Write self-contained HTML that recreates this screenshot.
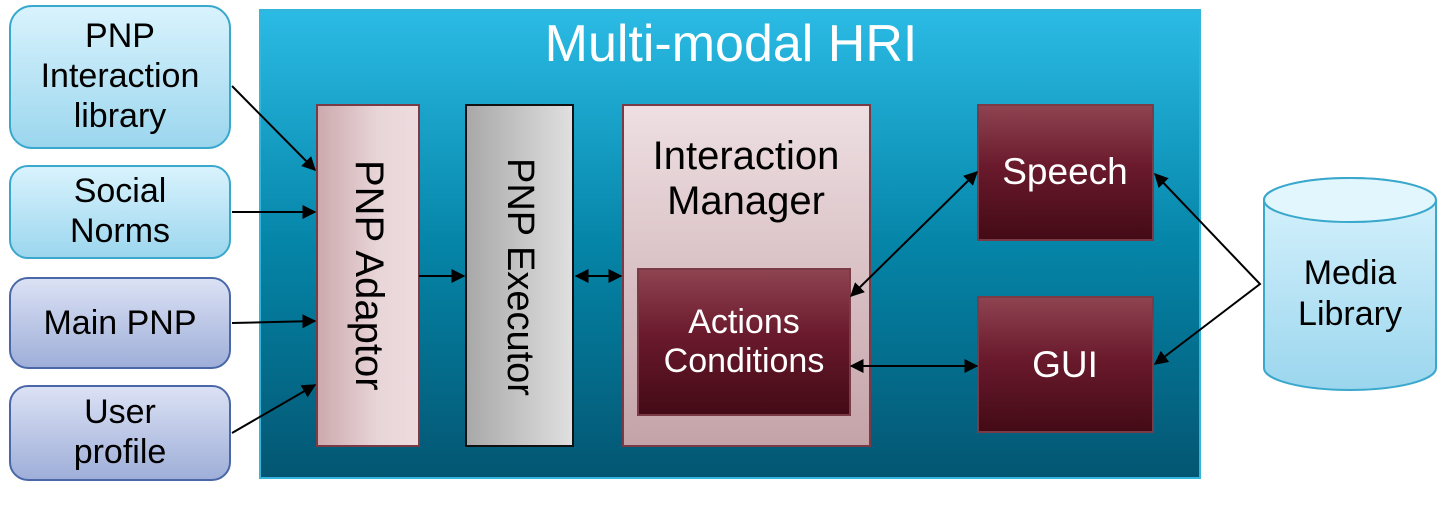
<!DOCTYPE html>
<html><head><meta charset="utf-8"><style>
html,body{margin:0;padding:0;background:#fff;}
svg{display:block;font-family:"Liberation Sans",sans-serif;}
</style></head><body>
<svg width="1446" height="509" viewBox="0 0 1446 509" xmlns="http://www.w3.org/2000/svg">
<defs>
<linearGradient id="main" x1="0" y1="0" x2="0" y2="1"><stop offset="0" stop-color="#2bbbe5"/><stop offset="0.5" stop-color="#0585a8"/><stop offset="1" stop-color="#035672"/></linearGradient>
<linearGradient id="cyan" x1="0" y1="0" x2="0" y2="1"><stop offset="0" stop-color="#d9f3fd"/><stop offset="1" stop-color="#9bd6ee"/></linearGradient>
<linearGradient id="blue" x1="0" y1="0" x2="0" y2="1"><stop offset="0" stop-color="#dce2f5"/><stop offset="1" stop-color="#9eaed8"/></linearGradient>
<linearGradient id="pink" x1="0" y1="0" x2="1" y2="0"><stop offset="0" stop-color="#cca9ad"/><stop offset="0.6" stop-color="#e8d5d8"/><stop offset="1" stop-color="#eddcdf"/></linearGradient>
<linearGradient id="pinkv" x1="0" y1="0" x2="0" y2="1"><stop offset="0" stop-color="#eedfe2"/><stop offset="1" stop-color="#c4a3a8"/></linearGradient>
<linearGradient id="gray" x1="0" y1="0" x2="1" y2="0"><stop offset="0" stop-color="#a8a8a8"/><stop offset="1" stop-color="#e0e0e0"/></linearGradient>
<linearGradient id="maroon" x1="0" y1="0" x2="0" y2="1"><stop offset="0" stop-color="#8f4452"/><stop offset="0.45" stop-color="#6a1a2c"/><stop offset="1" stop-color="#430a16"/></linearGradient>
<marker id="ah" viewBox="0 0 10 10" refX="9" refY="5" markerWidth="7" markerHeight="7" orient="auto-start-reverse"><path d="M0,0 L10,5 L0,10 z" fill="#000"/></marker>
</defs>
<rect x="260" y="10" width="940" height="468" fill="url(#main)" stroke="#33b5dc" stroke-width="2"/>
<text x="731" y="61" font-size="52" fill="#fff" text-anchor="middle">Multi-modal HRI</text>

<rect x="10" y="6" width="220" height="142" rx="22" fill="url(#cyan)" stroke="#3aa8cc" stroke-width="2"/>
<text font-size="34" text-anchor="middle" fill="#000"><tspan x="120" y="47">PNP</tspan><tspan x="120" y="87">Interaction</tspan><tspan x="120" y="127">library</tspan></text>
<rect x="10" y="166" width="220" height="92" rx="18" fill="url(#cyan)" stroke="#3aa8cc" stroke-width="2"/>
<text font-size="34" text-anchor="middle"><tspan x="120" y="202">Social</tspan><tspan x="120" y="242">Norms</tspan></text>
<rect x="10" y="278" width="220" height="90" rx="18" fill="url(#blue)" stroke="#4a68a8" stroke-width="2"/>
<text x="120" y="334" font-size="34" text-anchor="middle">Main PNP</text>
<rect x="10" y="386" width="220" height="94" rx="18" fill="url(#blue)" stroke="#4a68a8" stroke-width="2"/>
<text font-size="34" text-anchor="middle"><tspan x="120" y="423">User</tspan><tspan x="120" y="463">profile</tspan></text>

<rect x="317" y="105" width="102" height="341" fill="url(#pink)" stroke="#7a3a46" stroke-width="2"/>
<text transform="translate(356,160) rotate(90)" font-size="40" fill="#000">PNP Adaptor</text>
<rect x="466" y="105" width="107" height="341" fill="url(#gray)" stroke="#111" stroke-width="2"/>
<text transform="translate(508,158) rotate(90)" font-size="38" fill="#000">PNP Executor</text>

<rect x="623" y="105" width="247" height="341" fill="url(#pinkv)" stroke="#7a3a46" stroke-width="2"/>
<text font-size="40" text-anchor="middle" fill="#000"><tspan x="746" y="169">Interaction</tspan><tspan x="746" y="214">Manager</tspan></text>
<rect x="638" y="269" width="212" height="146" fill="url(#maroon)" stroke="#7a3a46" stroke-width="2"/>
<text font-size="34" text-anchor="middle" fill="#fff"><tspan x="744" y="333">Actions</tspan><tspan x="744" y="372">Conditions</tspan></text>

<rect x="978" y="105" width="175" height="135" fill="url(#maroon)" stroke="#7a3a46" stroke-width="2"/>
<text x="1065" y="184" font-size="37" text-anchor="middle" fill="#fff">Speech</text>
<rect x="978" y="297" width="175" height="135" fill="url(#maroon)" stroke="#7a3a46" stroke-width="2"/>
<text x="1065" y="377" font-size="37" text-anchor="middle" fill="#fff">GUI</text>

<path d="M1264,200 L1264,368 A86,22 0 0 0 1436,368 L1436,200 A86,22 0 0 0 1264,200 Z" fill="url(#cyan)" stroke="#3aa8cc" stroke-width="2"/>
<ellipse cx="1350" cy="200" rx="86" ry="22" fill="#e2f6fd" stroke="#3aa8cc" stroke-width="2"/>
<text font-size="34" text-anchor="middle" fill="#000"><tspan x="1350" y="284">Media</tspan><tspan x="1350" y="325">Library</tspan></text>

<g stroke="#000" stroke-width="2" fill="none">
<line x1="232" y1="86" x2="315" y2="170" marker-end="url(#ah)"/>
<line x1="232" y1="212" x2="315" y2="212" marker-end="url(#ah)"/>
<line x1="232" y1="323" x2="315" y2="321" marker-end="url(#ah)"/>
<line x1="232" y1="433" x2="315" y2="385" marker-end="url(#ah)"/>
<line x1="419" y1="276" x2="464" y2="276" marker-end="url(#ah)"/>
<line x1="576" y1="276" x2="621" y2="276" marker-start="url(#ah)" marker-end="url(#ah)"/>
<line x1="851" y1="296" x2="977" y2="172" marker-start="url(#ah)" marker-end="url(#ah)"/>
<line x1="851" y1="366" x2="977" y2="366" marker-start="url(#ah)" marker-end="url(#ah)"/>
<polyline points="1155,174 1260,284 1155,364" marker-start="url(#ah)" marker-end="url(#ah)"/>
</g>
</svg>
</body></html>
